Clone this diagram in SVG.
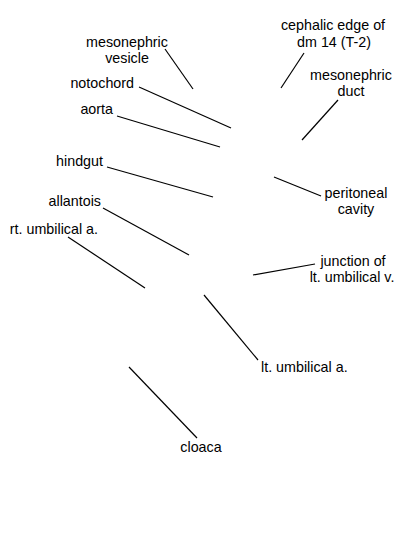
<svg xmlns="http://www.w3.org/2000/svg" width="400" height="550" viewBox="0 0 400 550">
<style>
text{font-family:"Liberation Sans",Arial,sans-serif;font-size:14.3px;fill:#000}
.m{text-anchor:middle}.e{text-anchor:end}
line{stroke:#000;stroke-width:1.2}
</style>
<rect width="400" height="550" fill="#fff"/>
<g id="connectors">
<line x1="165" y1="49" x2="193" y2="89"/>
<line x1="139" y1="87" x2="231" y2="128"/>
<line x1="117" y1="116" x2="220" y2="147"/>
<line x1="107" y1="167" x2="213" y2="197"/>
<line x1="103" y1="208" x2="189" y2="255"/>
<line x1="68" y1="237" x2="145" y2="288"/>
<line x1="304" y1="53" x2="281" y2="88"/>
<line x1="338" y1="100" x2="302" y2="140"/>
<line x1="274" y1="177" x2="321" y2="196"/>
<line x1="315" y1="264" x2="253" y2="275"/>
<line x1="204" y1="295" x2="258" y2="360"/>
<line x1="129" y1="367" x2="197" y2="438"/>
</g>
<g id="mesonephric-vesicle"><text class="m" x="127" y="47">mesonephric</text><text class="m" x="127" y="63">vesicle</text></g>
<g id="notochord"><text class="e" x="134" y="88">notochord</text></g>
<g id="aorta"><text class="e" x="113" y="114">aorta</text></g>
<g id="hindgut"><text class="e" x="103" y="166">hindgut</text></g>
<g id="allantois"><text class="e" x="101" y="206">allantois</text></g>
<g id="rt-umbilical-a"><text class="e" x="98" y="234">rt. umbilical a.</text></g>
<g id="cephalic-edge"><text class="m" x="333" y="30">cephalic edge of</text><text class="m" x="334" y="47">dm 14 (T-2)</text></g>
<g id="mesonephric-duct"><text class="m" x="351" y="80">mesonephric</text><text class="m" x="351" y="96">duct</text></g>
<g id="peritoneal-cavity"><text class="m" x="356" y="198">peritoneal</text><text class="m" x="356" y="214">cavity</text></g>
<g id="junction-lt-umbilical-v"><text class="m" x="353" y="266">junction of</text><text class="m" x="352" y="282">lt. umbilical v.</text></g>
<g id="lt-umbilical-a"><text x="261" y="372">lt. umbilical a.</text></g>
<g id="cloaca"><text class="m" x="201" y="452">cloaca</text></g>
</svg>
